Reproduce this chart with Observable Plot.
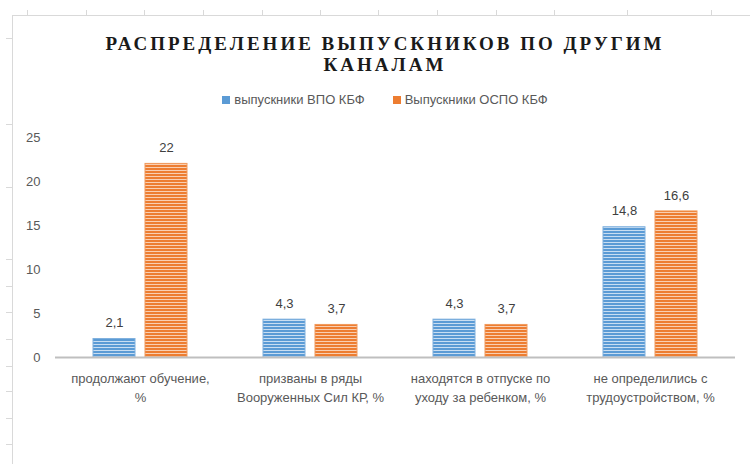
<!DOCTYPE html>
<html>
<head>
<meta charset="utf-8">
<script src="https://cdn.jsdelivr.net/npm/d3@7"></script>
<script src="https://cdn.jsdelivr.net/npm/@observablehq/plot@0.6"></script>
<style>
  html, body { margin: 0; padding: 0; background: #fff; }
  #wrap { position: relative; width: 750px; height: 464px; overflow: hidden; background: #fff; }
  #title { position: absolute; left: 0; width: 770px; top: 33px; text-align: center;
    font-family: "Liberation Serif", "DejaVu Serif", serif; font-weight: bold; font-size: 19px;
    letter-spacing: 3px; line-height: 21px; color: #1a1a1a; }
  #legend { position: absolute; top: 92px; left: 0; width: 770px; text-align: center;
    font-family: "Liberation Sans", sans-serif; font-size: 13px; color: #595959; }
  #legend span.item { display: inline-block; margin: 0 14px; }
  #legend span.sw { display: inline-block; width: 8px; height: 8px; margin-right: 4px; vertical-align: 0px; }
  .deco { position: absolute; background: #d9d9d9; }
  #chart { position: absolute; left: 0; top: 0; }
</style>
</head>
<body>
<div id="wrap">
  <div id="chart"></div>
  <div id="title">РАСПРЕДЕЛЕНИЕ ВЫПУСКНИКОВ ПО ДРУГИМ<br>КАНАЛАМ</div>
  <div id="legend"></div>
</div>
<script>
// ---- data ----
const categories = [
  "продолжают обучение, %",
  "призваны в ряды Вооруженных Сил КР, %",
  "находятся в отпуске по уходу за ребенком, %",
  "не определились с трудоустройством, %"
];
const categoryLines = [
  ["продолжают обучение,", "%"],
  ["призваны в ряды", "Вооруженных Сил КР, %"],
  ["находятся в отпуске по", "уходу за ребенком, %"],
  ["не определились с", "трудоустройством, %"]
];
const series = ["выпускники ВПО КБФ", "Выпускники ОСПО КБФ"];
const vpoValues = [2.1, 4.3, 4.3, 14.8];
const ospoValues = [22, 3.7, 3.7, 16.6];
const yTicks = [0, 5, 10, 15, 20, 25];

const colors = { blue: "#5B9BD5", orange: "#ED7D31" };

const rows = [];
categories.forEach((c, i) => {
  rows.push({ cat: c, series: series[0], value: vpoValues[i] });
  rows.push({ cat: c, series: series[1], value: ospoValues[i] });
});
const labelOf = Object.fromEntries(categories.map((c, i) => [c, categoryLines[i].join("\n")]));
const fmt = v => String(v).replace(".", ",");

// ---- decorations (spreadsheet frame) ----
const wrap = document.getElementById("wrap");
function deco(l, t, w, h) {
  const d = document.createElement("div");
  d.className = "deco";
  Object.assign(d.style, { left: l + "px", top: t + "px", width: w + "px", height: h + "px" });
  wrap.appendChild(d);
}
deco(12, 15, 738, 1);
deco(12, 15, 1, 449);
[27, 86, 144, 203, 262, 320, 378, 437, 496, 554, 627, 711].forEach(x => deco(x, 10, 1, 5));
[38, 124, 187, 259, 286, 312, 339, 366, 391, 418, 444].forEach(y => deco(6, y, 6, 1));

// ---- legend ----
const legend = document.getElementById("legend");
[[series[0], colors.blue], [series[1], colors.orange]].forEach(([name, col]) => {
  const s = document.createElement("span");
  s.className = "item";
  s.innerHTML = `<span class="sw" style="background:${col}"></span>${name}`;
  legend.appendChild(s);
});

// ---- chart ----
const chart = Plot.plot({
  width: 750,
  height: 464,
  marginTop: 137,
  marginBottom: 107,
  marginLeft: 55,
  marginRight: 15,
  style: { fontFamily: "'Liberation Sans', sans-serif", fontSize: "13px", color: "#595959", background: "transparent" },
  fx: { domain: categories, padding: 0, label: null },
  x: { domain: series, paddingInner: 0.19, paddingOuter: 0.7, axis: null },
  y: { domain: [0, 25], label: null },
  marks: [
    Plot.axisY({ ticks: yTicks, tickSize: 0, tickPadding: 15, label: null, fontSize: 13 }),
    Plot.axisFx({ anchor: "bottom", tickSize: 0, tickPadding: 12, label: null, fontSize: 13, lineHeight: 1.45, tickFormat: d => labelOf[d] }),
    Plot.barY(rows.filter(d => d.series === series[0]), { fx: "cat", x: "series", y: "value", fill: "url(#patBlue)", stroke: "#7FB0DE", strokeWidth: 1 }),
    Plot.barY(rows.filter(d => d.series === series[1]), { fx: "cat", x: "series", y: "value", fill: "url(#patOrange)", stroke: "#F19A5C", strokeWidth: 1 }),
    Plot.ruleY([0], { stroke: "#BFBFBF", strokeWidth: 2 }),
    Plot.text(rows, { fx: "cat", x: "series", y: "value", text: d => fmt(d.value), dy: -16, fill: "#404040", fontSize: 13 })
  ]
});

// patterns for Excel-like horizontal stripe fill
const svg = d3.select(chart.tagName.toLowerCase() === "svg" ? chart : chart.querySelector("svg"));
const defs = svg.insert("defs", ":first-child");
function stripe(id, base, light) {
  const p = defs.append("pattern").attr("id", id).attr("patternUnits", "userSpaceOnUse")
    .attr("width", 4).attr("height", 3);
  p.append("rect").attr("width", 4).attr("height", 3).attr("fill", base);
  p.append("rect").attr("y", 2).attr("width", 4).attr("height", 1).attr("fill", light);
}
stripe("patBlue", colors.blue, "#C9DEF2");
stripe("patOrange", colors.orange, "#F9CFB2");

document.getElementById("chart").appendChild(chart);
</script>
</body>
</html>
